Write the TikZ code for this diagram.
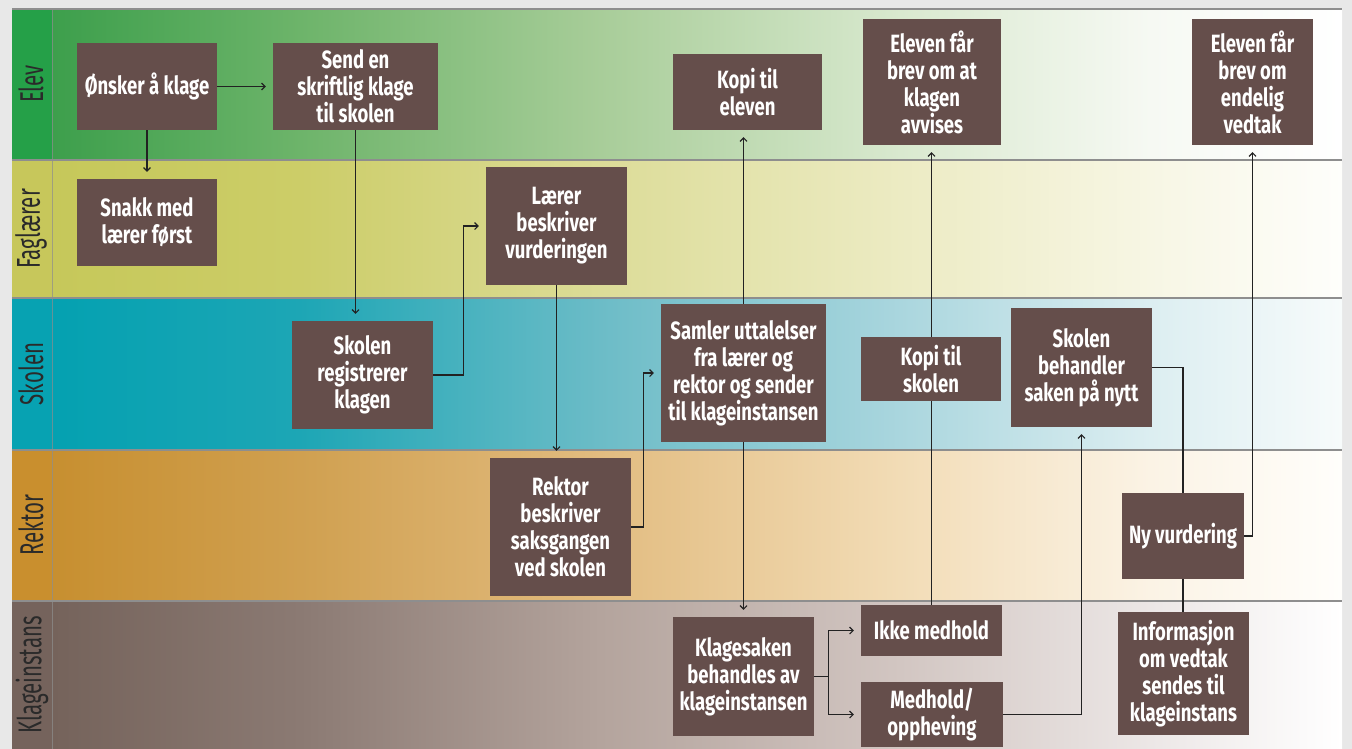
\documentclass[tikz,border=0pt]{standalone}
\usepackage{fontspec}
\usetikzlibrary{arrows.meta}
\newfontfamily\boxfont[FakeStretch=0.74]{Fira Sans}
\newfontfamily\lanefont[FakeStretch=0.62]{Fira Sans}
\definecolor{outerbg}{HTML}{E8E8E8}
\definecolor{boxc}{HTML}{654E4B}
\definecolor{lineC}{HTML}{222222}
\definecolor{sepC}{HTML}{8E8E8E}
\definecolor{labC}{HTML}{2A2A2A}
% Elev
\definecolor{EL}{HTML}{25A048}
\definecolor{E0}{HTML}{3D9F4C}\definecolor{E1}{HTML}{6DB46A}\definecolor{E2}{HTML}{A8CD99}
\definecolor{E3}{HTML}{D9E9CF}\definecolor{E4}{HTML}{F6F9F3}\definecolor{E5}{HTML}{FFFFFF}
% Faglaerer
\definecolor{FL}{HTML}{C7C75B}
\definecolor{F0}{HTML}{C6C85A}\definecolor{F1}{HTML}{CCCD68}\definecolor{F2}{HTML}{DCDC98}
\definecolor{F3}{HTML}{ECEBC3}\definecolor{F4}{HTML}{F7F6E4}\definecolor{F5}{HTML}{FEFEFB}
% Skolen
\definecolor{SL}{HTML}{07A2B2}
\definecolor{S0}{HTML}{04A1B1}\definecolor{S1}{HTML}{1DA6B5}\definecolor{S2}{HTML}{6CBCC7}
\definecolor{S3}{HTML}{AAD6DE}\definecolor{S4}{HTML}{DCEEF1}\definecolor{S5}{HTML}{F7FBFB}
% Rektor
\definecolor{RL}{HTML}{C98F2E}
\definecolor{R0}{HTML}{C78F30}\definecolor{R1}{HTML}{D0A050}\definecolor{R2}{HTML}{E2BC80}
\definecolor{R3}{HTML}{F2DCB6}\definecolor{R4}{HTML}{FBF3E5}\definecolor{R5}{HTML}{FFFEFB}
% Klageinstans
\definecolor{KL}{HTML}{75635C}
\definecolor{K0}{HTML}{75635B}\definecolor{K1}{HTML}{8B7A73}\definecolor{K2}{HTML}{B4A49D}
\definecolor{K3}{HTML}{D2C6C2}\definecolor{K4}{HTML}{ECE7E6}\definecolor{K5}{HTML}{FFFFFF}
\newcommand\mkLane[3]{%
  \fill[#1L] (12,#2) rectangle (52,#3);
  \shade[left color=#10,right color=#11] (52,#2) rectangle (300.5,#3);
  \shade[left color=#11,right color=#12] (300,#2) rectangle (600.5,#3);
  \shade[left color=#12,right color=#13] (600,#2) rectangle (900.5,#3);
  \shade[left color=#13,right color=#14] (900,#2) rectangle (1150.5,#3);
  \shade[left color=#14,right color=#15] (1150,#2) rectangle (1342,#3);
}
\begin{document}
\begin{tikzpicture}[x=1pt,y=-1pt,
  bx/.style={fill=boxc,text=white,align=center,inner sep=0pt,
    font=\boxfont\bfseries\fontsize{25}{27}\selectfont},
  lane/.style={text=labC,rotate=90,font=\lanefont\fontsize{33}{36}\selectfont},
  arr/.style={draw=lineC,line width=1.1pt,-{Straight Barb[length=3.5pt,width=7pt]},shorten >=7pt},
  ln/.style={draw=lineC,line width=1.1pt},
  sep/.style={draw=sepC,line width=1.6pt}]
\useasboundingbox (0,0) rectangle (1352,749);
\fill[outerbg] (0,0) rectangle (1352,749);
\mkLane{E}{9}{160}
\mkLane{F}{160}{298}
\mkLane{S}{298}{450}
\mkLane{R}{450}{601}
\mkLane{K}{601}{749}
\draw[sep] (12,9) -- (1342,9);
\draw[sep] (12,160) -- (1342,160);
\draw[sep] (12,298) -- (1342,298);
\draw[sep] (12,450) -- (1342,450);
\draw[sep] (12,601) -- (1342,601);
\draw[draw=sepC,line width=1pt,opacity=0.7] (52,9) -- (52,749);
% lane labels
\node[lane] (lE) at (31,84) {Elev};
\node[lane] (lF) at (31,229) {Faglærer};
\node[lane] (lS) at (31,374) {Skolen};
\node[lane] (lR) at (31,525) {Rektor};
\node[lane] (lK) at (32,675) {Klageinstans};
% boxes
\node[bx,minimum width=140,minimum height=87] (ons) at (147,86.5) {Ønsker å klage};
\node[bx,minimum width=165,minimum height=87] (send) at (355.5,86.5) {Send en\\skriftlig klage\\til skolen};
\node[bx,minimum width=140,minimum height=87] (snakk) at (147,222.5) {Snakk med\\lærer først};
\node[bx,minimum width=141,minimum height=118] (laerer) at (556.5,226) {Lærer\\beskriver\\vurderingen};
\node[bx,minimum width=149,minimum height=76] (kopiE) at (747.5,92) {Kopi til\\eleven};
\node[bx,minimum width=138,minimum height=126] (avvis) at (932,82) {Eleven får\\brev om at\\klagen\\avvises};
\node[bx,minimum width=121,minimum height=126] (endelig) at (1252.5,82) {Eleven får\\brev om\\endelig\\vedtak};
\node[bx,minimum width=141,minimum height=108] (reg) at (362.5,375) {Skolen\\registrerer\\klagen};
\node[bx,minimum width=165,minimum height=138] (samler) at (743.5,373) {Samler uttalelser\\fra lærer og\\rektor og sender\\til klageinstansen};
\node[bx,minimum width=141,minimum height=138] (rektor) at (560.5,527) {Rektor\\beskriver\\saksgangen\\ved skolen};
\node[bx,minimum width=141,minimum height=119] (klagesak) at (743.5,676.5) {Klagesaken\\behandles av\\klageinstansen};
\node[bx,minimum width=141,minimum height=51] (ikke) at (931.5,630.5) {Ikke medhold};
\node[bx,minimum width=142,minimum height=65] (medhold) at (932,714.5) {Medhold/\\oppheving};
\node[bx,minimum width=141,minimum height=119] (behandler) at (1081.5,367.5) {Skolen\\behandler\\saken på nytt};
\node[bx,minimum width=122,minimum height=86] (ny) at (1183,536) {Ny vurdering};
\node[bx,minimum width=131,minimum height=123] (info) at (1183.5,673.5) {Informasjon\\om vedtak\\sendes til\\klageinstans};
% connectors
\draw[arr] (ons.east) -- (send.west);
\draw[arr] (ons.south) -- (snakk.north);
\draw[arr] (send.south) -- (send.south |- reg.north);
\draw[arr] (reg.east) -- ++(30,0) |- (laerer.west);
\draw[arr] (laerer.south) -- (laerer.south |- rektor.north);
\draw[arr] (rektor.east) -- ++(12,0) |- (samler.west);
\draw[arr] (samler.north) -- (samler.north |- kopiE.south);
\draw[arr] (samler.south) -- (klagesak.north);
\draw[arr] (klagesak.east) -- ++(14,0) |- (ikke.west);
\draw[arr] (klagesak.east) -- ++(14,0) |- (medhold.west);
\draw[arr] (ikke.north) -- (ikke.north |- avvis.south);
\draw[arr] (medhold.east) -| (behandler.south);
\draw[ln] (behandler.east) -| (ny.north);
\draw[arr] (ny.east) -| (endelig.south);
\draw[ln] (ny.south) -- (ny.south |- info.north);
% box drawn over the passing line
\node[bx,minimum width=140,minimum height=64] (kopiS) at (931,369) {Kopi til\\skolen};
\end{tikzpicture}
\end{document}
